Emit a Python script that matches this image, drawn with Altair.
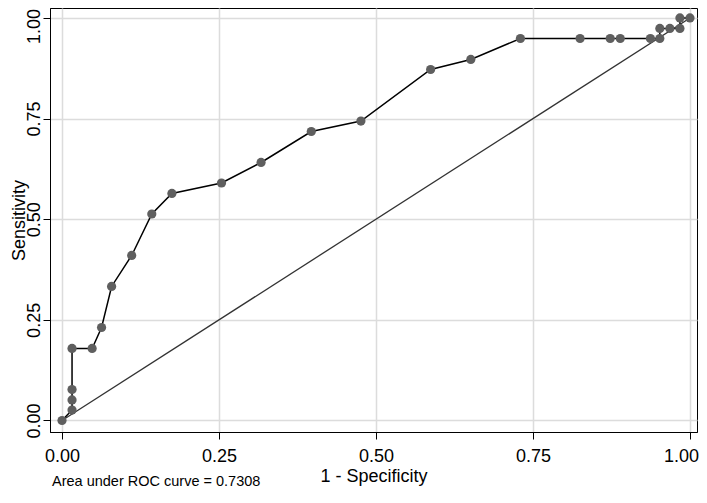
import altair as alt
import pandas as pd

fpr = [0.0, 0.016, 0.016, 0.016, 0.016, 0.048, 0.063, 0.079, 0.111, 0.143, 0.175,
       0.254, 0.317, 0.397, 0.476, 0.587, 0.651, 0.730, 0.825, 0.873, 0.889,
       0.937, 0.952, 0.952, 0.968, 0.984, 0.984, 1.0]
tpr = [0.0, 0.026, 0.051, 0.077, 0.179, 0.179, 0.231, 0.333, 0.410, 0.513, 0.564,
       0.590, 0.641, 0.718, 0.744, 0.872, 0.897, 0.949, 0.949, 0.949, 0.949,
       0.949, 0.949, 0.974, 0.974, 0.974, 1.0, 1.0]
ticks = [0, 0.25, 0.5, 0.75, 1.0]
ref_x = [0.0, 1.0]
ref_y = [0.0, 1.0]
note = "Area under ROC curve = 0.7308"

roc = pd.DataFrame({"fpr": fpr, "tpr": tpr, "idx": list(range(len(fpr)))})
ref = pd.DataFrame({"fpr": ref_x, "tpr": ref_y})

FONT = "Liberation Sans"

xscale = alt.Scale(domain=[-0.0191, 1.0112], nice=False, zero=False)
yscale = alt.Scale(domain=[-0.0286, 1.0248], nice=False, zero=False)

xaxis = alt.Axis(values=ticks, format=".2f", title="1 - Specificity",
                 grid=True, gridColor="#dcdcdc", gridWidth=1.5,
                 tickSize=7, tickColor="#000", domainColor="#000",
                 labelFont=FONT, labelFontSize=18, labelColor="#000",
                 labelBaseline="alphabetic", labelPadding=22,
                 labelOffset={"condition": {"test": "datum.value >= 1", "value": -9}, "value": 0},
                 titleFont=FONT, titleFontSize=18, titleFontWeight="normal",
                 titleColor="#000", titleBaseline="alphabetic", titleY=49)
yaxis = alt.Axis(values=ticks, format=".2f", title="Sensitivity",
                 grid=True, gridColor="#dcdcdc", gridWidth=1.5,
                 tickSize=7, tickColor="#000", domainColor="#000",
                 labelFont=FONT, labelFontSize=18, labelColor="#000",
                 labelAngle=270, labelAlign="center", labelBaseline="alphabetic",
                 labelPadding=4,
                 labelOffset={"condition": {"test": "datum.value >= 1", "value": 8}, "value": 0},
                 titleFont=FONT, titleFontSize=18, titleFontWeight="normal",
                 titleColor="#000", titleAngle=270, titleAlign="center",
                 titleBaseline="alphabetic", titleX=-26, titleY=212)

diag = alt.Chart(ref).mark_line(color="#333333", strokeWidth=1.3).encode(
    x=alt.X("fpr:Q", scale=xscale, axis=xaxis),
    y=alt.Y("tpr:Q", scale=yscale, axis=yaxis),
)
line = alt.Chart(roc).mark_line(color="#000000", strokeWidth=1.5).encode(
    x=alt.X("fpr:Q", scale=xscale),
    y=alt.Y("tpr:Q", scale=yscale),
    order="idx:Q",
)
pts = alt.Chart(roc).mark_circle(color="#5f5f5f", opacity=1, size=85).encode(
    x=alt.X("fpr:Q", scale=xscale),
    y=alt.Y("tpr:Q", scale=yscale),
)
txt = alt.Chart(pd.DataFrame({"t": [note]})).mark_text(
    font=FONT, fontSize=14.5, align="left", baseline="alphabetic", color="#000"
).encode(text="t:N", x=alt.value(2), y=alt.value(478))

chart = alt.layer(diag, line, pts, txt).properties(
    width=647, height=424,
    autosize=alt.AutoSizeParams(type="none"),
    padding={"left": 42, "top": 0, "right": 2, "bottom": 56},
    background="white",
).configure_view(stroke="#000", strokeWidth=1)

chart.save("out.html", embed_options={"renderer": "svg", "actions": False})
